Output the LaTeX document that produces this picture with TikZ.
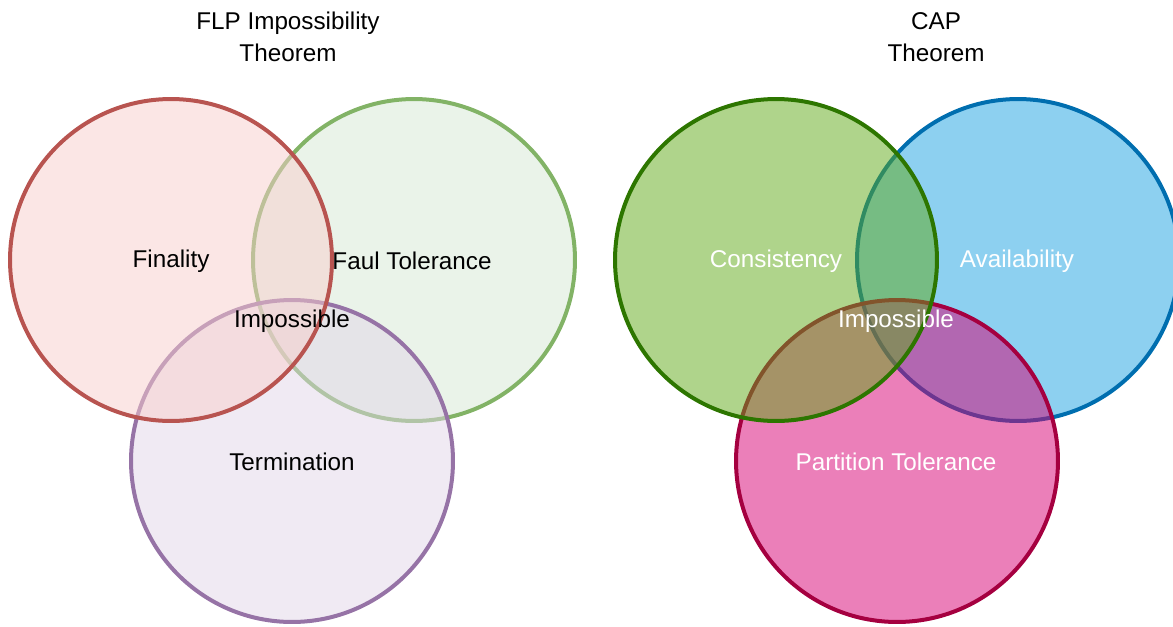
\documentclass[tikz,border=0pt]{standalone}
\usepackage{fontspec}
\setmainfont{Liberation Sans}
\usetikzlibrary{positioning}
\usetikzlibrary{calc}

\definecolor{redline}{HTML}{B85450}
\definecolor{redfill}{HTML}{F8CECC}
\definecolor{greenline}{HTML}{82B366}
\definecolor{greenfill}{HTML}{D5E8D4}
\definecolor{purpleline}{HTML}{9673A6}
\definecolor{purplefill}{HTML}{E1D5E7}
\definecolor{capgreenline}{HTML}{2D7600}
\definecolor{capgreenfill}{HTML}{60A917}
\definecolor{capblueline}{HTML}{006EAF}
\definecolor{capbluefill}{HTML}{1BA1E2}
\definecolor{cappinkline}{HTML}{A50040}
\definecolor{cappinkfill}{HTML}{D80073}

\begin{document}
\begin{tikzpicture}[x=0.02cm,y=-0.02cm]
\tikzstyle{every node}=[font=\fontsize{13.8}{18.2}\selectfont]
\tikzstyle{venn}=[circle,line width=0.08cm,minimum size=6.44cm,inner sep=0pt,fill opacity=0.5,text opacity=1]
\tikzstyle{title}=[align=center]

\useasboundingbox (0,0) rectangle (1173,626);

%=== FLP
\node[venn,draw=greenline,fill=greenfill] (fault) at (414,260) {};
\node[venn,draw=purpleline,fill=purplefill] (term) at (292,461) {};
\node[venn,draw=redline,fill=redfill] (final) at (171,260) {};
% Textes
\node (finlab) at (171,261) {Finality};
\node (faultlab) at (412,261) {Faul Tolerance};
\node (termlab) at (292,462) {Termination};
\node (flpimp) at (292,321) {Impossible};
% Titre
\node[title] (flptitle) at (288,37) {FLP Impossibility\\Theorem};

%=== CAP
\node[venn,draw=capblueline,fill=capbluefill] (avail) at (1018,260) {};
\node[venn,draw=cappinkline,fill=cappinkfill] (part) at (897,461) {};
\node[venn,draw=capgreenline,fill=capgreenfill] (cons) at (776,260) {};
% Textes
\node[white] (conslab) at (776,261) {Consistency};
\node[white] (availlab) at (1017,261) {Availability};
\node[white] (partlab) at (896,462) {Partition Tolerance};
\node[white] (capimp) at (896,321) {Impossible};
% Titre
\node[title] (captitle) at (936,37) {CAP\\Theorem};
\end{tikzpicture}
\end{document}
